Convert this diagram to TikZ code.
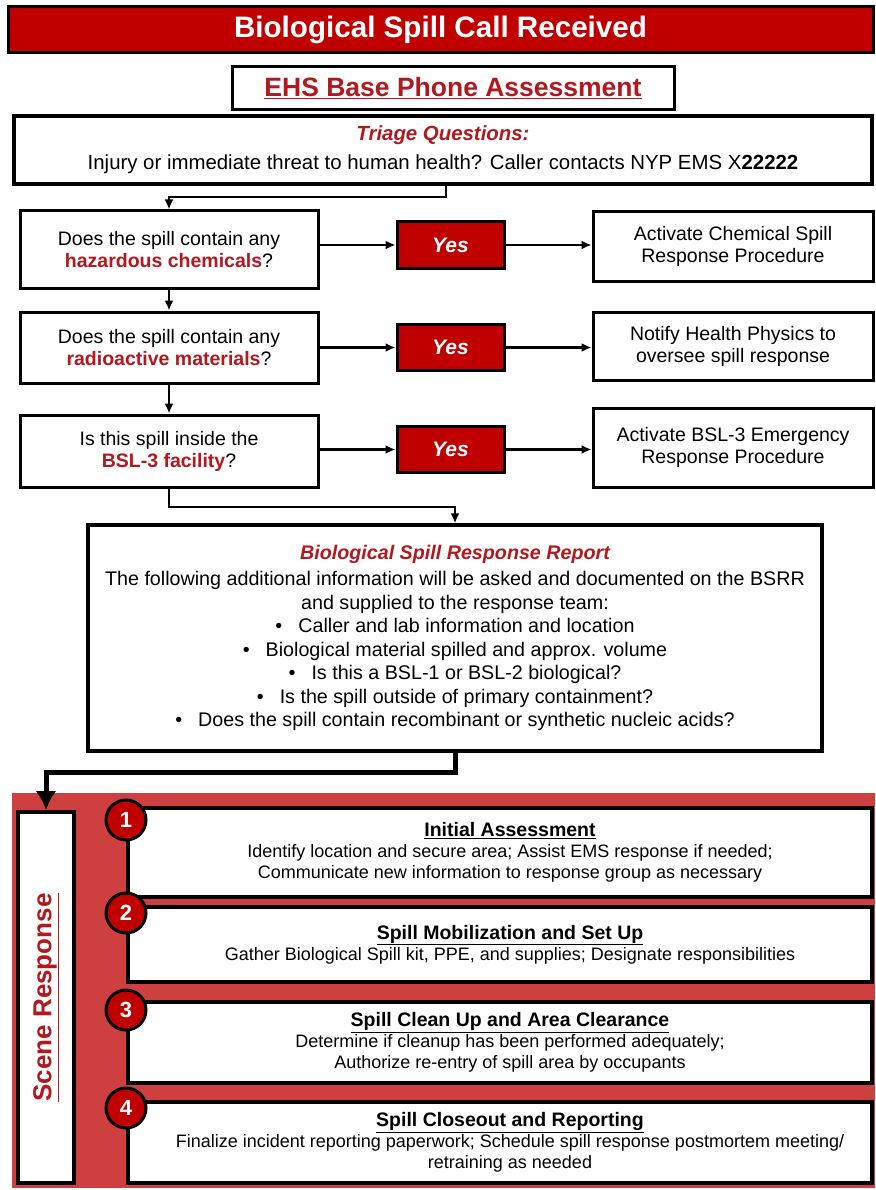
\documentclass[tikz,border=0pt]{standalone}
\usepackage{fontspec}
\setmainfont{Liberation Sans}
\usepackage{xcolor}
\usetikzlibrary{arrows,arrows.meta,shapes,backgrounds,shapes.misc,fit,positioning}
\definecolor{spillred}{RGB}{192,0,0}
\definecolor{panelred}{RGB}{206,64,64}
\definecolor{textred}{RGB}{178,24,30}
\newcommand{\redbold}[1]{\textcolor{textred}{\bfseries #1}}

\begin{document}
\begin{tikzpicture}[x=1pt,y=-1pt]
    \tikzstyle{box}=[rectangle, draw=black, line width=3pt, fill=white, align=center, inner sep=0pt, font=\fontsize{19.5}{22}\selectfont]
    \tikzstyle{yesbox}=[box, fill=spillred, text=white, minimum width=107, minimum height=46, font=\fontsize{21}{24}\selectfont\bfseries\itshape]
    \tikzstyle{qbox}=[box, minimum width=298]
    \tikzstyle{actbox}=[box, minimum width=280]
    \tikzstyle{stepbox}=[box, line width=4pt, minimum width=744]
    \tikzstyle{steptext}=[align=center, xshift=10pt, font=\fontsize{18}{21}\selectfont]
    \tikzstyle{numdot}=[circle, draw=black, line width=3pt, fill=spillred, text=white, minimum size=40, inner sep=0pt, font=\fontsize{22}{24}\selectfont\bfseries]
    \tikzstyle{connect}=[-{Latex[length=10pt,width=9pt]}, line width=2.2pt]
    \tikzstyle{bigconnect}=[-{Latex[length=19pt,width=21pt]}, line width=5pt]
    \useasboundingbox (0,0) rectangle (875,1190);
    \node[box, fill=spillred, text=white, minimum width=865, minimum height=46, font=\fontsize{29.6}{32}\selectfont\bfseries] (call) at (440.5,30) {Biological Spill Call Received};
    \node[box, minimum width=442, minimum height=43, text=textred, font=\fontsize{26.5}{30}\selectfont\bfseries] (ehs) at (453,88) {\underline{EHS Base Phone Assessment}};
    \node[box, line width=3.5pt, minimum width=858, minimum height=68, font=\fontsize{20.4}{22}\selectfont] (triage) at (443,150) {{\color{textred}\bfseries\itshape Triage Questions:}\\[7pt]Injury or immediate threat to human health? Caller contacts NYP EMS X\textbf{22222}};
    \node[qbox, minimum height=77] (q1) at (169,249.5) {Does the spill contain any\\\redbold{hazardous chemicals}?};
    \node[qbox, minimum height=71] (q2) at (169,347.5) {Does the spill contain any\\\redbold{radioactive materials}?};
    \node[qbox, minimum height=72] (q3) at (169,451) {Is this spill inside the\\\redbold{BSL-3 facility}?};
    \node[yesbox] (yes1) at (450.5,245) {Yes};
    \node[yesbox] (yes2) at (450.5,347.5) {Yes};
    \node[yesbox] (yes3) at (450.5,449.5) {Yes};
    \node[actbox, minimum height=69] (act1) at (733,246.5) {Activate Chemical Spill\\Response Procedure};
    \node[actbox, minimum height=68] (act2) at (733,346) {Notify Health Physics to\\oversee spill response};
    \node[actbox, minimum height=79] (act3) at (733,447.5) {Activate BSL-3 Emergency\\Response Procedure};
    \node[box, line width=3.5pt, minimum width=734, minimum height=226, font=\fontsize{19.7}{23.5}\selectfont] (bsrr) at (455,638) {{\color{textred}\bfseries\itshape Biological Spill Response Report}\\[3pt]
        The following additional information will be asked and documented on the BSRR\\
        and supplied to the response team:\\
        \textbullet\hspace{16pt}Caller and lab information and location\\
        \textbullet\hspace{16pt}Biological material spilled and approx. volume\\
        \textbullet\hspace{16pt}Is this a BSL-1 or BSL-2 biological?\\
        \textbullet\hspace{16pt}Is the spill outside of primary containment?\\
        \textbullet\hspace{16pt}Does the spill contain recombinant or synthetic nucleic acids?};
    \node[rectangle, fill=panelred, minimum width=863, minimum height=395, inner sep=0pt] (panel) at (443.5,990.5) {};
    \node[box, line width=4pt, minimum width=56, minimum height=371, label={[rotate=90, text=textred, font=\fontsize{26}{28}\selectfont\bfseries]center:\underline{Scene Response}}] (scene) at (46,997.5) {};
    \node[stepbox, minimum height=89, label={[steptext]center:{{\fontsize{19.5}{21}\selectfont\bfseries\underline{Initial Assessment}}\\Identify location and secure area; Assist EMS response if needed;\\Communicate new information to response group as necessary}}] (s1) at (500,852.5) {};
    \node[stepbox, minimum height=75, label={[steptext]center:{{\fontsize{19.5}{21}\selectfont\bfseries\underline{Spill Mobilization and Set Up}}\\Gather Biological Spill kit, PPE, and supplies; Designate responsibilities}}] (s2) at (500,944.5) {};
    \node[stepbox, minimum height=81, label={[steptext]center:{{\fontsize{19.5}{21}\selectfont\bfseries\underline{Spill Clean Up and Area Clearance}}\\Determine if cleanup has been performed adequately;\\Authorize re-entry of spill area by occupants}}] (s3) at (500,1042.5) {};
    \node[stepbox, minimum height=81, label={[steptext]center:{{\fontsize{19.5}{21}\selectfont\bfseries\underline{Spill Closeout and Reporting}}\\Finalize incident reporting paperwork; Schedule spill response postmortem meeting/\\retraining as needed}}] (s4) at (500,1142.5) {};
    \node[numdot] (n1) at (126,820) {1};
    \node[numdot] (n2) at (126,913) {2};
    \node[numdot] (n3) at (126,1010) {3};
    \node[numdot] (n4) at (126,1108) {4};
    \coordinate (t1) at (446,197);
    \coordinate (b1) at (169,507);
    \coordinate (b2) at (455,772);
    \draw[connect] (t1 |- triage.south) -- (t1) -- (t1 -| q1.north) -- (q1.north);
    \draw[connect] (q1) -- (q2);
    \draw[connect] (q2) -- (q3);
    \draw[connect] (q3.south) -- (b1) -- (b1 -| bsrr.north) -- (bsrr.north);
    \draw[bigconnect] (bsrr.south) -- (b2) -- (b2 -| scene.north) -- (scene.north);
    \path (q1.east |- yes1.west) edge [connect] (yes1.west)
    (q2.east |- yes2.west) edge [connect] (yes2.west)
    (q3.east |- yes3.west) edge [connect] (yes3.west)
    (yes1.east) edge [connect] (yes1.east -| act1.west)
    (yes2.east) edge [connect] (yes2.east -| act2.west)
    (yes3.east) edge [connect] (yes3.east -| act3.west);
  \end{tikzpicture}
\end{document}
